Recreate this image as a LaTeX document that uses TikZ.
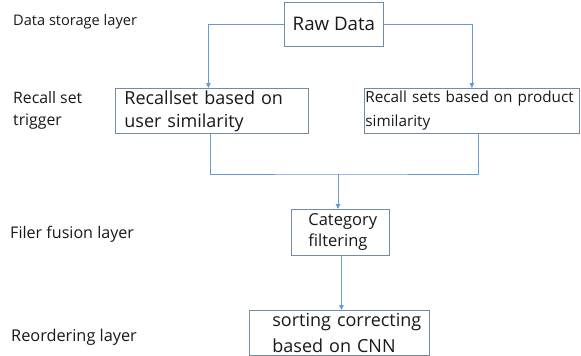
\documentclass[tikz,border=0pt]{standalone}
\usepackage{fontspec}
\setmainfont{Open Sans}
\usetikzlibrary{arrows.meta}
\definecolor{connc}{RGB}{100,155,210}
\definecolor{boxc}{RGB}{115,140,165}
\definecolor{txt}{RGB}{25,25,25}
\begin{document}
\begin{tikzpicture}[x=1pt,y=-1pt,
  box/.style={draw=boxc, line width=0.8pt, anchor=north west, inner ysep=0pt, align=left, text=txt},
  lbl/.style={anchor=base west, inner sep=0pt, text=txt, align=left},
  conn/.style={draw=connc, line width=0.8pt},
  arr/.style={conn, -{Triangle[length=5pt,width=4.5pt]}}]
\fill[white] (0,0) rectangle (581,356);
\useasboundingbox (0,0) rectangle (581,356);
% layer labels
\node[lbl, font=\fontsize{14.6}{18}\selectfont] (l1) at (13,25) {Data storage layer};
\node[lbl, font=\fontsize{15.8}{22}\selectfont] (l2) at (13,125) {Recall set\\trigger};
\node[lbl, font=\fontsize{16.1}{20}\selectfont] (l3) at (10,238) {Filer fusion layer};
\node[lbl, font=\fontsize{16.3}{20}\selectfont] (l4) at (11,341) {Reordering layer};
% boxes
\node[box, minimum width=99, minimum height=44, font=\fontsize{18.7}{22}\selectfont] (raw) at (284,2) {Raw Data};
\node[box, minimum width=193, minimum height=45, inner xsep=9pt, text width=175pt, font=\fontsize{18}{23}\selectfont] (u) at (115,88) {Recallset based on\\user similarity};
\node[box, minimum width=215, minimum height=45, inner xsep=1pt, text width=213pt, font=\fontsize{15.3}{24}\selectfont] (p) at (364,88) {\mbox{Recall sets based on product}\\similarity};
\node[box, minimum width=98, minimum height=46, inner xsep=17pt, text width=64pt, font=\fontsize{16.5}{21}\selectfont] (cat) at (291,209) {\mbox{Category}\\\mbox{filtering}};
\node[box, minimum width=180, minimum height=45, inner xsep=23pt, text width=134pt, font=\fontsize{18}{26}\selectfont] (sort) at (249,310) {\mbox{sorting correcting}\\\mbox{based on CNN}};
% connectors
\draw[arr] (raw.west) -| ([xshift=-3.5pt]u.north);
\draw[arr] (raw.east) -| (p.north);
\coordinate (m) at (338,174);
\draw[conn] ([xshift=-1.5pt]u.south) |- (m) -| ([xshift=6.5pt]p.south);
\draw[arr] (m) -- (m |- cat.north);
\draw[arr] ([xshift=1pt]cat.south) -- ([xshift=1pt]cat.south |- sort.north);
\end{tikzpicture}
\end{document}
